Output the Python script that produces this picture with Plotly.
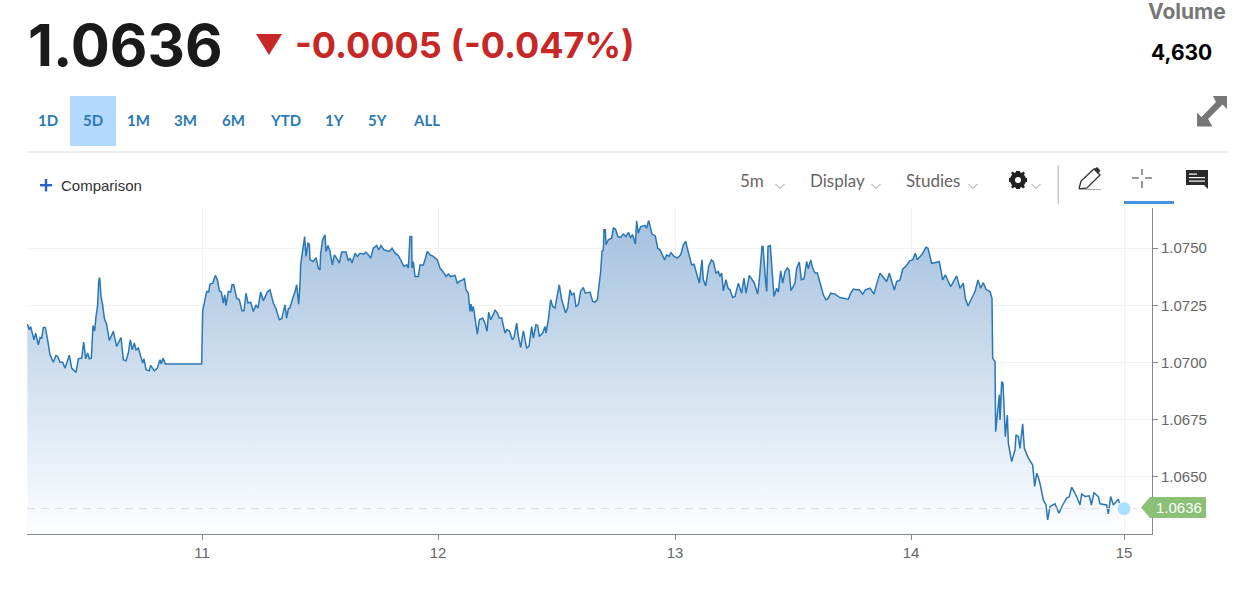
import plotly.graph_objects as go

# Sampled turning points of the 5-day price line (1 step = about 2 minutes)
steps = [1,7,11,17,21,26,34,39,44,49,55,61,69,79,87,92,99,107,114,127,134,147,154,164,170,176,182,187,193,198,203,207,212,215,218,222,227,232,239,247,259,269,282,289,297,304,310,316,322,327,334,347,351,357,367,371,382,391,399,403,408,415,524,
527,532,539,545,549,557,565,571,577,583,589,593,597,604,611,615,620,629,637,645,651,657,663,671,679,687,693,701,709,721,729,739,747,757,764,774,779,784,789,797,804,809,815,819,821,825,833,837,843,847,849,859,867,874,879,881,887,894,897,903,909,916,922,929,937,944,957,964,969,975,984,991,999,1011,1016,1024,1031,1039,1049,1055,1062,1071,1087,1095,1104,1114,1124,1131,1139,1144,1149,1154,1155,1159,1164,1174,1179,1189,1194,1201,1209,1219,1231,
1239,1251,1257,1264,1271,1284,1291,1299,1309,1312,1317,1324,1329,1332,1335,1339,1345,1351,1357,1367,1374,1380,1385,1391,1399,1404,1411,1417,1424,1434,1439,1447,1456,1461,1469,1474,1481,1489,1499,1506,1514,1519,1527,1532,1537,1547,1554,1557,1564,1571,1577,1584,1591,1597,1604,1609,1616,1622,1629,1634,1641,1647,1654,1661,1669,1675,1689,
1697,1704,1711,1717,1721,1725,1729,1731,1735,1737,1744,1754,1759,1765,1773,1781,1789,1797,1804,1811,1817,1825,1829,1834,1841,1854,1859,1865,1871,1875,1885,1892,1899,1907,1913,1919,1926,1932,1941,1951,1961,1969,1976,1981,1987,1994,2001,2009,2017,2025,2029,2036,2045,2053,2059,2067,2074,2079,2084,2089,2097,2103,2109,2117,2124,2134,2144,2151,2157,2167,2175,2182,2192,2197,2205,2208,2215,2219,2223,2230,2234,2241,2249,2254,2261,2267,2274,2281,2286,2292,2304,2309,2317,2323,2331,2339,2344,2351,2357,2364,2371,2381,2389,2397,2403,2411,2424,2439,2464,2471,2479,2489,2497,2507,2515,2529,2541,2547,2559,
2567,2579,2587,2595,2602,2609,2619,2627,2637,2649,2657,2665,2671,2684,2697,2703,2714,2737,2747,2755,2764,2771,2789,2799,2809,2815,2823,2834,2844,2853,2861,2869,2877,2889,2895,2897,2904,2906,2911,2917,2919,2924,2928,2932,2935,2941,2944,2954,2964,2967,2974,2979,2987,2992,3004,3017,3023,3029,3035,3041,3049,3057,3062,3069,3084,3096,3107,3119,3127,3134,3149,3159,3164,3174,3187,3193,3201,3214,3219,3239,3244,3251,3259,3274,3277]

prices = [1.07168,1.07143,1.07157,1.07128,1.07099,1.07128,1.07077,1.07109,1.07106,1.07153,1.07153,1.07106,1.07033,1.07001,1.07031,1.07026,1.07001,1.07001,1.06975,1.07031,1.06975,1.06956,1.07016,1.07019,1.07089,1.07016,1.07041,1.07016,1.07019,1.07162,1.07138,1.07201,1.07252,1.07354,1.07372,1.07289,1.07252,1.07194,1.07165,1.07096,1.07136,1.07070,1.07109,1.07012,1.07007,1.07041,1.07099,1.07055,1.07085,1.07055,1.07063,1.06997,1.07016,1.06968,1.06963,1.06987,1.06963,1.06975,1.07012,1.06993,1.07019,1.06993,1.06993,
1.07226,1.07260,1.07311,1.07308,1.07343,1.07347,1.07381,1.07362,1.07314,1.07308,1.07260,1.07296,1.07249,1.07311,1.07308,1.07340,1.07340,1.07281,1.07274,1.07226,1.07226,1.07303,1.07260,1.07264,1.07223,1.07252,1.07238,1.07308,1.07270,1.07308,1.07318,1.07260,1.07235,1.07187,1.07191,1.07252,1.07194,1.07235,1.07238,1.07281,1.07308,1.07340,1.07255,1.07340,1.07427,1.07471,1.07551,1.07464,1.07522,1.07518,1.07449,1.07442,1.07459,1.07413,1.07405,1.07478,1.07537,1.07559,1.07486,1.07512,1.07486,1.07427,1.07471,1.07457,1.07435,1.07483,1.07483,1.07445,1.07457,1.07435,1.07478,1.07464,1.07478,1.07474,1.07483,1.07471,1.07457,1.07500,1.07512,1.07493,1.07512,1.07493,1.07486,1.07500,1.07478,1.07468,1.07435,1.07420,1.07427,1.07413,1.07551,1.07551,1.07413,1.07442,1.07376,1.07376,1.07427,1.07427,1.07449,1.07486,1.07471,1.07464,1.07449,
1.07413,1.07391,1.07376,1.07387,1.07376,1.07381,1.07347,1.07357,1.07362,1.07369,1.07318,1.07303,1.07223,1.07255,1.07223,1.07245,1.07179,1.07124,1.07187,1.07194,1.07172,1.07136,1.07220,1.07187,1.07209,1.07230,1.07216,1.07194,1.07194,1.07128,1.07143,1.07138,1.07099,1.07109,1.07172,1.07114,1.07066,1.07138,1.07063,1.07070,1.07157,1.07106,1.07165,1.07162,1.07114,1.07128,1.07157,1.07128,1.07187,1.07274,1.07245,1.07238,1.07296,1.07340,1.07274,1.07252,1.07216,1.07238,1.07318,1.07296,1.07303,1.07245,1.07252,1.07311,1.07328,1.07303,1.07308,
1.07267,1.07264,1.07274,1.07340,1.07398,1.07486,1.07493,1.07581,1.07581,1.07515,1.07537,1.07544,1.07588,1.07585,1.07551,1.07547,1.07562,1.07551,1.07569,1.07547,1.07559,1.07518,1.07620,1.07566,1.07595,1.07600,1.07588,1.07621,1.07588,1.07562,1.07554,1.07500,1.07493,1.07464,1.07449,1.07471,1.07464,1.07481,1.07464,1.07457,1.07471,1.07515,1.07530,1.07500,1.07464,1.07427,1.07430,1.07384,1.07347,1.07449,1.07362,1.07335,1.07420,1.07449,1.07442,1.07391,1.07398,1.07376,1.07391,1.07314,1.07362,1.07325,1.07318,1.07284,1.07289,1.07347,1.07303,1.07369,1.07303,1.07381,1.07362,1.07347,1.07299,1.07362,1.07508,1.07508,1.07369,1.07311,1.07508,1.07512,1.07427,1.07289,1.07325,1.07308,1.07401,1.07347,1.07398,1.07413,1.07405,1.07314,1.07347,1.07413,1.07439,1.07362,1.07366,1.07442,1.07410,1.07449,1.07413,1.07391,1.07391,1.07340,1.07296,1.07274,1.07279,1.07303,1.07299,1.07284,1.07277,1.07303,1.07321,1.07318,1.07318,1.07299,1.07318,1.07325,1.07299,1.07333,1.07391,
1.07376,1.07354,1.07390,1.07347,1.07317,1.07354,1.07361,1.07408,1.07422,1.07446,1.07449,1.07478,1.07449,1.07471,1.07504,1.07500,1.07434,1.07441,1.07361,1.07383,1.07354,1.07332,1.07379,1.07325,1.07347,1.07281,1.07247,1.07281,1.07310,1.07361,1.07325,1.07349,1.07320,1.07310,1.07281,1.07018,1.07004,1.06697,1.06778,1.06858,1.06748,1.06916,1.06909,1.06792,1.06675,1.06770,1.06646,1.06566,1.06617,1.06683,1.06675,1.06624,1.06731,1.06624,1.06581,1.06551,1.06457,1.06515,1.06493,1.06457,1.06398,1.06376,1.06311,1.06369,1.06381,1.06340,1.06376,1.06406,1.06413,1.06454,1.06413,1.06376,1.06424,1.06413,1.06416,1.06376,1.06430,1.06413,1.06381,1.06376,1.06337,1.06413,1.06376,1.06401,1.06384]

day_ticks = [525, 1233, 1944, 2652, 3291]
day_labels = ["11", "12", "13", "14", "15"]
price_ticks = [1.0650, 1.0675, 1.0700, 1.0725, 1.0750]
last_step = [3291]
last_price = [1.0636]
header_price = "1.0636"
header_change = "-0.0005 (-0.047%)"
volume_label = "Volume"
volume_value = "4,630"
range_labels = ["1D", "5D", "1M", "3M", "6M", "YTD", "1Y", "5Y", "ALL"]
range_centers = [48, 93, 138, 185, 233, 285, 334, 377, 426]

W, H = 1252, 612
L, R, T, B = 27, 1152, 208, 534
fx = lambda px: (px - L) / (R - L)
fy = lambda py: (B - py) / (B - T)

HEAD = "Inter, Lato, sans-serif"
BODY = "Lato, 'Open Sans', sans-serif"
AXIS = "'Liberation Sans', Arial, sans-serif"

def text(px, py, s, size, color, anchor="left", bold=False, family=BODY):
    return dict(x=fx(px), y=fy(py), xref="paper", yref="paper", text=f"<b>{s}</b>" if bold else s,
                showarrow=False, xanchor=anchor, yanchor="middle", borderpad=0,
                font=dict(size=size, color=color, family=family))

def pl(points, close=False, **kw):
    cmds = []
    for i, p in enumerate(points):
        cmds.append(("M" if i == 0 else "L") + f"{fx(p[0]):.5f},{fy(p[1]):.5f}")
    if close:
        cmds.append("Z")
    return dict(type="path", xref="paper", yref="paper", path=" ".join(cmds),
                fillcolor=kw.get("fill", "rgba(0,0,0,0)"),
                line=dict(color=kw.get("line", "rgba(0,0,0,0)"), width=kw.get("width", 1)))

def rect(x0, y0, x1, y1, color):
    return dict(type="rect", xref="paper", yref="paper", x0=fx(x0), x1=fx(x1), y0=fy(y0), y1=fy(y1),
                fillcolor=color, line=dict(width=0))

fig = go.Figure()
fig.add_trace(go.Scatter(
    x=steps, y=prices, mode="lines", fill="tozeroy",
    fillgradient=dict(type="vertical", start=1.0765, stop=1.0625,
                      colorscale=[[0, "#a3c0de"], [1, "#fdfeff"]]),
    line=dict(color="#2a77b5", width=1.5), hoverinfo="skip", showlegend=False))
fig.add_trace(go.Scatter(
    x=[0, 3330], y=last_price * 2, mode="lines", line=dict(color="#dddddd", width=1, dash="8px,6px"),
    hoverinfo="skip", showlegend=False))
fig.add_trace(go.Scatter(
    x=last_step, y=last_price, mode="markers", marker=dict(color="#a8e2ff", size=13),
    hoverinfo="skip", showlegend=False))

shapes = [
    rect(70, 96, 116, 146, "#b3d9ff"),
    rect(27, 151.5, 1227, 152.5, "#dcdcdc"),
    rect(1057.5, 165, 1059, 204, "#c8c8c8"),
    rect(1124, 201, 1174, 204, "#4a90e2"),
    pl([(256, 34), (282, 34), (269, 55)], close=True, fill="#c62828"),
    rect(40, 184, 52, 186.4, "#2a62c9"),
    rect(44.8, 179, 47.2, 191.4, "#2a62c9"),
    pl([(1141, 507.5), (1150, 497), (1206, 497), (1206, 518), (1150, 518)], close=True, fill="#8bc176"),
    # expand arrows
    pl([(1227, 96), (1227, 109), (1222.5, 104.5), (1208, 119), (1212.5, 126.5), (1197, 126.5), (1197, 112.5),
        (1201.5, 117), (1216, 102), (1213, 96)], close=True, fill="#777777"),
    # pencil
    pl([(1079, 189), (1081, 181), (1094, 169), (1100, 175), (1087, 188), (1079, 189)], line="#333333", width=1.3),
    pl([(1094, 169), (1097, 167), (1100.5, 170.5), (1098, 174)], close=True, fill="#333333"),
    rect(1079, 189, 1101, 190, "#aaaaaa"),
    # crosshair
    rect(1132, 177.5, 1139, 178.5, "#333333"), rect(1145, 177.5, 1152, 178.5, "#333333"),
    rect(1141.5, 169, 1142.5, 175, "#333333"), rect(1141.5, 181, 1142.5, 188, "#333333"),
    # comment
    pl([(1186, 170), (1208, 170), (1208, 189), (1204, 185), (1186, 185)], close=True, fill="#2b2b2b"),
    rect(1189, 173.5, 1197, 174.7, "#ffffff"), rect(1189, 177, 1205, 178.2, "#ffffff"), rect(1189, 180.5, 1205, 181.7, "#ffffff"),
    # gear
    dict(type="circle", xref="paper", yref="paper", x0=fx(1012.5), x1=fx(1023.5), y0=fy(185.5), y1=fy(174.5),
         fillcolor="rgba(0,0,0,0)", line=dict(color="#222222", width=5)),
    rect(1016, 171, 1020, 174, "#222222"), rect(1016, 186, 1020, 189, "#222222"),
    rect(1009, 178, 1012, 182, "#222222"), rect(1024, 178, 1027, 182, "#222222"),
    pl([(1011, 173), (1013, 171.5), (1015, 174), (1013, 176)], close=True, fill="#222222"),
    pl([(1025, 173), (1023, 171.5), (1021, 174), (1023, 176)], close=True, fill="#222222"),
    pl([(1011, 187), (1013, 188.5), (1015, 186), (1013, 184)], close=True, fill="#222222"),
    pl([(1025, 187), (1023, 188.5), (1021, 186), (1023, 184)], close=True, fill="#222222"),
]
for cx in [780, 876, 973, 1036]:
    shapes.append(pl([(cx - 4.5, 184), (cx, 188.5), (cx + 4.5, 184)], line="#999999", width=1))

ann = [
    text(27, 45, header_price, 58, "#1a1a1a", bold=True, family=HEAD),
    text(294, 45, header_change, 36, "#c62828", bold=True, family=HEAD),
    text(1227, 12, volume_label, 21, "#777777", anchor="right", bold=True, family=HEAD),
    text(1150, 52, volume_value, 21, "#000000", bold=True, family=HEAD),
    text(60, 186, "Comparison", 15, "#333333", family=AXIS),
    text(739, 180, "5m", 17, "#666666"),
    text(809, 180, "Display", 17, "#666666"),
    text(905, 180, "Studies", 17, "#666666"),
    text(1179, 507.5, f"{last_price[0]:.4f}", 15, "#ffffff", anchor="center", family=AXIS),
]
for lab, cx in zip(range_labels, range_centers):
    ann.append(text(cx, 120, lab, 15, "#2b7ab5", anchor="center", bold=True))

fig.update_layout(
    width=W, height=H, autosize=False,
    margin=dict(l=L, r=W - R, t=T, b=H - B, pad=0),
    paper_bgcolor="#ffffff", plot_bgcolor="#ffffff",
    showlegend=False, shapes=shapes, annotations=ann,
    xaxis=dict(range=[0, 3375], tickmode="array", tickvals=day_ticks, ticktext=day_labels,
               showgrid=True, gridcolor="#f2f2f2", gridwidth=1, zeroline=False,
               showline=True, linecolor="#888888", linewidth=1, ticks="outside", ticklen=5,
               tickcolor="#888888", tickfont=dict(size=15, color="#666666", family=AXIS)),
    yaxis=dict(side="right", range=[1.06249, 1.07676], tickmode="array", tickvals=price_ticks,
               tickformat=".4f", showgrid=True, gridcolor="#f2f2f2", gridwidth=1, zeroline=False,
               showline=True, linecolor="#888888", linewidth=1, ticks="outside", ticklen=5,
               tickcolor="#888888", tickfont=dict(size=15, color="#666666", family=AXIS)),
)

assert len(steps) == len(prices), (len(steps), len(prices))
fig.write_html("out.html", config=dict(displayModeBar=False),
               post_script="document.body.style.margin='0';document.body.style.overflow='hidden';")
